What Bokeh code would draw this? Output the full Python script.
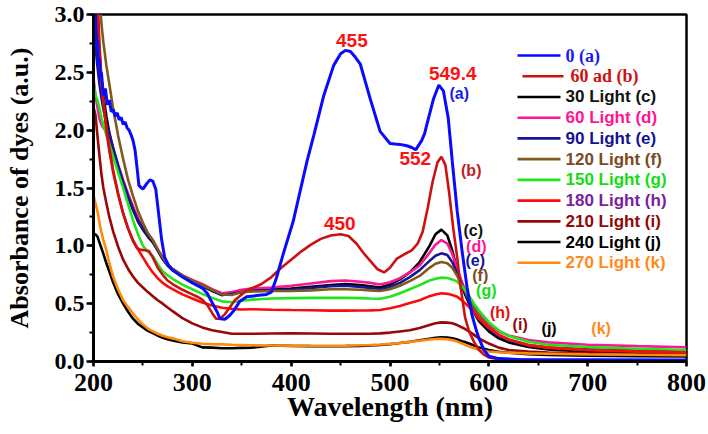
from bokeh.plotting import figure
from bokeh.models import Label, Range1d, SingleIntervalTicker, NumeralTickFormatter
from bokeh.embed import file_html
from bokeh.resources import INLINE

# ---------------- data: UV-Vis absorbance spectra ----------------
# (a) 0 min
wl_a = [201, 202, 203, 204, 205, 206, 207, 208, 210, 212, 214, 216, 218, 220, 222, 224, 226, 228,
        230, 232, 234, 236, 238, 240, 242, 244, 246, 250, 254, 257, 260, 263, 266, 269, 272, 276, 280,
        290, 300, 310, 315, 320, 325, 328, 333, 338, 342, 348, 355, 365, 375, 380, 385, 392, 402, 416,
        423, 433, 443, 450, 455, 460, 465, 470, 480, 490, 500, 505, 510, 517, 522, 526, 532, 535, 537,
        544, 549.4, 554, 559, 563, 568, 573, 578, 583, 588, 591, 595, 600, 610, 630, 700, 800]
abs_a = [3.3, 2.95, 2.72, 2.78, 2.55, 2.62, 2.45, 2.5, 2.3, 2.36, 2.22, 2.26, 2.16, 2.18, 2.12, 2.15, 2.09, 2.11,
         2.05, 2.07, 2.02, 2.0, 1.96, 1.91, 1.83, 1.68, 1.52, 1.49, 1.54, 1.57, 1.56, 1.49, 1.27, 1.05, 0.9, 0.83, 0.79,
         0.73, 0.68, 0.635, 0.59, 0.51, 0.43, 0.37, 0.365, 0.40, 0.44, 0.52, 0.56, 0.57, 0.58, 0.6, 0.72, 0.93, 1.21, 1.73,
         1.96, 2.30, 2.56, 2.66, 2.69, 2.68, 2.63, 2.57, 2.27, 1.99, 1.885, 1.88, 1.877, 1.865, 1.85, 1.83, 1.91, 1.97, 2.04,
         2.27, 2.39, 2.34, 2.10, 1.73, 1.3, 0.95, 0.64, 0.4, 0.25, 0.18, 0.1, 0.045, 0.025, 0.018, 0.015, 0.012]

# (b) 60 min adsorption (dark)
wl_b = [203, 206, 208, 210, 213, 216, 220, 225, 230, 235, 240, 244, 248, 252, 256, 260, 265, 270, 275, 280,
        290, 300, 305, 310, 315, 320, 324, 328, 333, 338, 343, 350, 356, 362, 370, 380, 390, 400, 410, 420,
        430, 440, 450, 458, 466, 473, 480, 487, 494, 500, 507, 514, 522, 528, 533, 538, 543, 548, 552, 556,
        560, 564, 568, 571, 576, 580, 585, 590, 595, 600, 610, 650, 800]
abs_b = [3.3, 2.75, 2.45, 2.25, 2.02, 1.85, 1.65, 1.45, 1.28, 1.15, 1.04, 0.98, 0.965, 0.962, 0.955, 0.90, 0.81, 0.75, 0.70, 0.67,
         0.62, 0.58, 0.56, 0.535, 0.49, 0.42, 0.37, 0.37, 0.41, 0.47, 0.53, 0.58, 0.62, 0.64, 0.67, 0.73, 0.81, 0.88, 0.95, 1.01,
         1.06, 1.09, 1.10, 1.085, 1.02, 0.94, 0.87, 0.80, 0.77, 0.81, 0.89, 0.925, 0.96, 1.02, 1.12, 1.32, 1.55, 1.72, 1.77, 1.70,
         1.45, 1.15, 0.90, 0.67, 0.38, 0.26, 0.17, 0.1, 0.06, 0.035, 0.02, 0.012, 0.01]

# common wavelength grid for the irradiated samples (c)-(k)
wl_grid = [200, 202, 204, 206, 208, 210, 213, 216, 220, 225, 230, 235, 240, 245, 250, 255, 260, 265, 270, 275,
           280, 290, 300, 310, 320, 330, 340, 350, 360, 380, 400, 420, 440, 455, 470, 480, 490, 500, 510, 520,
           530, 540, 546, 552, 558, 563, 568, 574, 580, 585, 590, 600, 610, 620, 640, 660, 700, 750, 800]

abs_c = [4.0, 3.3, 2.9, 2.65, 2.45, 2.3, 2.12, 1.98, 1.83, 1.68, 1.54, 1.42, 1.31, 1.21, 1.14, 1.08, 1.03, 0.96, 0.885, 0.83,
         0.79, 0.735, 0.69, 0.65, 0.61, 0.575, 0.585, 0.6, 0.615, 0.625, 0.63, 0.645, 0.66, 0.67, 0.66, 0.65, 0.64, 0.665, 0.71, 0.77,
         0.86, 1.0, 1.1, 1.14, 1.09, 0.96, 0.79, 0.62, 0.5, 0.42, 0.35, 0.26, 0.2, 0.165, 0.125, 0.105, 0.085, 0.07, 0.06]
abs_d = [2.45, 2.3, 2.2, 2.1, 2.05, 2.02, 2.0, 1.95, 1.84, 1.70, 1.57, 1.45, 1.34, 1.24, 1.16, 1.1, 1.05, 0.97, 0.9, 0.84,
         0.8, 0.745, 0.705, 0.67, 0.625, 0.59, 0.6, 0.62, 0.63, 0.64, 0.655, 0.675, 0.695, 0.70, 0.69, 0.68, 0.665, 0.685, 0.72, 0.77,
         0.83, 0.94, 1.01, 1.05, 1.02, 0.93, 0.8, 0.66, 0.55, 0.47, 0.41, 0.32, 0.26, 0.225, 0.185, 0.165, 0.145, 0.133, 0.123]
abs_e = [2.9, 2.72, 2.55, 2.4, 2.28, 2.18, 2.06, 1.97, 1.84, 1.69, 1.55, 1.43, 1.32, 1.22, 1.15, 1.09, 1.04, 0.96, 0.89, 0.83,
         0.79, 0.735, 0.695, 0.655, 0.615, 0.575, 0.585, 0.6, 0.61, 0.615, 0.62, 0.635, 0.65, 0.655, 0.645, 0.635, 0.625, 0.645, 0.68, 0.73,
         0.79, 0.87, 0.915, 0.935, 0.92, 0.86, 0.76, 0.64, 0.52, 0.44, 0.37, 0.28, 0.22, 0.18, 0.14, 0.12, 0.105, 0.093, 0.085]
abs_f = [4.5, 4.0, 3.6, 3.2, 2.92, 2.76, 2.56, 2.4, 2.18, 1.95, 1.75, 1.57, 1.43, 1.3, 1.2, 1.11, 1.05, 0.97, 0.9, 0.84,
         0.8, 0.745, 0.7, 0.66, 0.62, 0.58, 0.575, 0.6, 0.605, 0.61, 0.61, 0.615, 0.625, 0.625, 0.62, 0.615, 0.61, 0.625, 0.655, 0.695,
         0.74, 0.81, 0.845, 0.86, 0.85, 0.81, 0.74, 0.64, 0.54, 0.46, 0.39, 0.3, 0.23, 0.19, 0.145, 0.12, 0.1, 0.085, 0.075]
abs_g = [2.4, 2.3, 2.26, 2.19, 2.11, 2.04, 1.96, 1.88, 1.77, 1.63, 1.5, 1.36, 1.22, 1.1, 1.0, 0.95, 0.91, 0.84, 0.78, 0.745,
         0.715, 0.665, 0.625, 0.585, 0.55, 0.52, 0.512, 0.525, 0.535, 0.545, 0.548, 0.55, 0.55, 0.55, 0.548, 0.545, 0.543, 0.56, 0.59, 0.625,
         0.66, 0.7, 0.715, 0.725, 0.722, 0.71, 0.69, 0.64, 0.57, 0.5, 0.44, 0.34, 0.27, 0.22, 0.17, 0.145, 0.125, 0.11, 0.1]
abs_h = [4.5, 3.8, 3.1, 2.7, 2.42, 2.25, 2.0, 1.82, 1.63, 1.44, 1.28, 1.15, 1.05, 0.97, 0.9, 0.83, 0.77, 0.72, 0.68, 0.65,
         0.625, 0.58, 0.545, 0.51, 0.485, 0.465, 0.455, 0.45, 0.452, 0.448, 0.445, 0.443, 0.44, 0.44, 0.441, 0.442, 0.445, 0.46, 0.48, 0.505,
         0.53, 0.565, 0.58, 0.59, 0.585, 0.575, 0.56, 0.52, 0.47, 0.42, 0.37, 0.29, 0.23, 0.19, 0.14, 0.12, 0.1, 0.088, 0.08]
abs_i = [2.2, 2.13, 1.95, 1.78, 1.62, 1.5, 1.37, 1.25, 1.12, 0.99, 0.88, 0.8, 0.735, 0.68, 0.64, 0.6, 0.565, 0.53, 0.5, 0.467,
         0.435, 0.375, 0.33, 0.295, 0.27, 0.255, 0.24, 0.24, 0.24, 0.242, 0.243, 0.242, 0.24, 0.24, 0.24, 0.24, 0.243, 0.25, 0.26, 0.27,
         0.29, 0.315, 0.33, 0.338, 0.336, 0.33, 0.315, 0.29, 0.26, 0.23, 0.2, 0.155, 0.12, 0.1, 0.085, 0.078, 0.07, 0.065, 0.062]
abs_j = [1.10, 1.1, 1.08, 1.03, 0.98, 0.93, 0.85, 0.78, 0.68, 0.58, 0.5, 0.43, 0.37, 0.325, 0.295, 0.265, 0.245, 0.225, 0.205, 0.193,
         0.182, 0.165, 0.155, 0.122, 0.12, 0.115, 0.115, 0.118, 0.12, 0.138, 0.135, 0.133, 0.132, 0.133, 0.135, 0.138, 0.143, 0.15, 0.16, 0.17,
         0.183, 0.197, 0.205, 0.21, 0.207, 0.2, 0.19, 0.172, 0.155, 0.138, 0.122, 0.1, 0.085, 0.075, 0.063, 0.057, 0.05, 0.046, 0.043]
abs_k = [1.44, 1.37, 1.3, 1.2, 1.12, 1.05, 0.96, 0.85, 0.73, 0.62, 0.53, 0.47, 0.415, 0.365, 0.32, 0.285, 0.26, 0.24, 0.222, 0.21,
         0.2, 0.175, 0.162, 0.153, 0.15, 0.148, 0.145, 0.143, 0.14, 0.138, 0.137, 0.136, 0.136, 0.137, 0.14, 0.143, 0.147, 0.152, 0.16, 0.17,
         0.18, 0.19, 0.194, 0.196, 0.193, 0.185, 0.172, 0.152, 0.13, 0.115, 0.102, 0.087, 0.08, 0.076, 0.07, 0.067, 0.062, 0.058, 0.055]

legend_names = ["0 (a)", "60 ad (b)", "30 Light (c)", "60 Light (d)", "90 Light (e)", "120 Light (f)",
                "150 Light (g)", "180 Light (h)", "210 Light (i)", "240 Light (j)", "270 Light (k)"]
line_colors = ["#0a0aff", "#cc1111", "#000000", "#ff1493", "#151596", "#7f5a1e",
               "#1ee61e", "#ff0a0a", "#990808", "#000000", "#ff8a0a"]
text_colors = ["#1a1af0", "#cc1111", "#111111", "#ff1493", "#141490", "#7b4a1e",
               "#14dc14", "#7a1fa0", "#8e0a0a", "#000000", "#ff8a1a"]
tag_colors = ["#1a1af0", "#c01e1e", "#111111", "#ff1493", "#141490", "#7b4a1e",
              "#14dc14", "#e81010", "#8e0a0a", "#000000", "#ff8a1a"]

# curve tags (a)..(k): wavelength, absorbance
tag_text = ["(a)", "(b)", "(c)", "(d)", "(e)", "(f)", "(g)", "(h)", "(i)", "(j)", "(k)"]
tag_x = [570.1, 582.2, 584.2, 587.3, 586.2, 591.3, 597.4, 611.5, 631.7, 661.0, 713.6]
tag_y = [2.32, 1.655, 1.135, 0.99, 0.877, 0.74, 0.61, 0.426, 0.318, 0.284, 0.284]

# peak wavelengths marked on the spectra
peak_text = ["455", "549.4", "552", "450"]
peak_x = [461.4, 563.5, 525.6, 449.2]
peak_y = [2.773, 2.487, 1.754, 1.195]

# ---------------- figure ----------------
W, H = 708, 434
FL, FR, FT, FB = 93, 686, 14, 361          # frame edges in pixels
X0, X1, Y0, Y1 = 200, 800, 0.0, 3.0

p = figure(width=W, height=H, x_range=Range1d(X0, X1), y_range=Range1d(Y0, Y1),
           output_backend="svg", toolbar_location=None,
           min_border_left=FL, min_border_right=W - FR, min_border_top=FT, min_border_bottom=H - FB)
p.background_fill_color = "white"
p.border_fill_color = "white"
p.grid.visible = False
p.outline_line_color = "black"
p.outline_line_width = 2.5
p.outline_line_alpha = 1.0

SERIF = "Liberation Serif"
SANS = "Liberation Sans"

p.xaxis.ticker = SingleIntervalTicker(interval=100, num_minor_ticks=2)
p.yaxis.ticker = SingleIntervalTicker(interval=0.5, num_minor_ticks=2)
p.yaxis.formatter = NumeralTickFormatter(format="0.0")
for ax in (p.xaxis[0], p.yaxis[0]):
    ax.axis_line_width = 3
    ax.axis_line_color = "black"
    ax.major_tick_line_width = 2.5
    ax.minor_tick_line_width = 2
    ax.major_tick_in = 0
    ax.minor_tick_in = 0
    ax.major_label_text_font = SERIF
    ax.major_label_text_font_style = "bold"
    ax.major_label_text_color = "black"
    ax.axis_label_text_font = SERIF
    ax.axis_label_text_font_style = "bold"
    ax.axis_label_text_color = "black"

p.xaxis.major_tick_out = 5
p.xaxis.minor_tick_out = 4
p.xaxis.major_label_standoff = 7
p.xaxis.major_label_text_font_size = "26px"
p.xaxis.axis_label = "Wavelength (nm)"
p.xaxis.axis_label_text_font_size = "28px"
p.xaxis.axis_label_standoff = -3

p.yaxis.major_tick_out = 7
p.yaxis.minor_tick_out = 4
p.yaxis.major_label_standoff = 2
p.yaxis.major_label_text_font_size = "24px"
p.yaxis.axis_label = "Absorbance of dyes (a.u.)"
p.yaxis.axis_label_text_font_size = "26px"
p.yaxis.axis_label_standoff = 18

# spectra: irradiated samples first, then (b) and (a) on top
spectra = [
    (wl_grid, abs_c, 2), (wl_grid, abs_d, 3), (wl_grid, abs_e, 4), (wl_grid, abs_f, 5),
    (wl_grid, abs_g, 6), (wl_grid, abs_h, 7), (wl_grid, abs_i, 8), (wl_grid, abs_j, 9),
    (wl_grid, abs_k, 10), (wl_b, abs_b, 1), (wl_a, abs_a, 0),
]
for xs, ys, idx in spectra:
    p.line(xs, ys, line_color=line_colors[idx], line_width=2.6 if idx else 3.0)

# peak wavelength labels
for t, x, y in zip(peak_text, peak_x, peak_y):
    p.add_layout(Label(x=x, y=y, text=t, text_align="center", text_baseline="middle",
                       text_font=SANS, text_font_style="bold", text_font_size="19px",
                       text_color="#ff1010"))

# curve tags
for t, x, y, c in zip(tag_text, tag_x, tag_y, tag_colors):
    p.add_layout(Label(x=x, y=y, text=t, text_align="center", text_baseline="middle",
                       text_font=SANS, text_font_style="bold", text_font_size="16px",
                       text_color=c))


# legend, laid out in frame pixels
def px_to_x(px):
    return X0 + (px - FL) * (X1 - X0) / (FR - FL)


def px_to_y(py):
    return Y0 + (FB - py) * (Y1 - Y0) / (FB - FT)


for i, name in enumerate(legend_names):
    yc = 55 + i * 20.73
    x_start, x_end, x_text = (522, 563, 570) if i == 1 else (517, 560, 565)
    p.line([px_to_x(x_start), px_to_x(x_end)], [px_to_y(yc), px_to_y(yc)],
           line_color=line_colors[i], line_width=2.6)
    serif_entry = i < 2
    p.add_layout(Label(x=px_to_x(x_text), y=px_to_y(yc), text=name,
                       text_align="left", text_baseline="middle",
                       text_font=SERIF if serif_entry else SANS, text_font_style="bold",
                       text_font_size="18px" if serif_entry else "17px",
                       text_color=text_colors[i]))

open("out.html", "w").write(file_html(p, INLINE))
